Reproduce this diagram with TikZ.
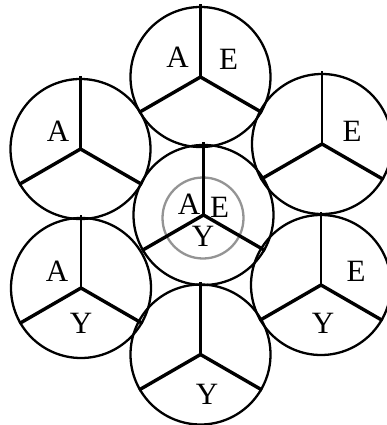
\documentclass[tikz,border=0pt]{standalone}
\usepackage{fontspec}
\setmainfont{Liberation Serif}
\begin{document}
\begin{tikzpicture}[x=1pt,y=-1pt,
  disk/.style={circle,draw,line width=2.3pt,minimum size=140pt,inner sep=0pt},
  ring/.style={circle,draw=black!42,line width=2.3pt,minimum size=81pt,inner sep=0pt},
  vspoke/.style={line width=2.3pt},
  lspoke/.style={line width=3.4pt},
  lab/.style={inner sep=0pt,font=\fontsize{31}{31}\selectfont}]
\useasboundingbox (0,0) rectangle (387,425);
\node[disk] (t) at (200.5,77) {};
\node[disk] (ul) at (80.5,149) {};
\node[disk] (ur) at (322,144) {};
\node[disk] (c) at (203.5,215) {};
\node[disk] (ll) at (81,288) {};
\node[disk] (lr) at (321,285) {};
\node[disk] (b) at (200.5,354.5) {};
\node[ring] (g) at (203,218) {};
\foreach \n in {t,ul,ur,c,ll,lr,b}{
  \draw[vspoke] (\n.center) -- ++(0,-73);
  \draw[lspoke] (\n.center) -- (\n.210);
  \draw[lspoke] (\n.center) -- (\n.330);
}
\node[lab] (tA) at (177.5,57.5) {A};
\node[lab] (tE) at (228.5,59.5) {E};
\node[lab] (ulA) at (58,131) {A};
\node[lab] (urE) at (352,131) {E};
\node[lab] (cA) at (189,204) {A};
\node[lab] (cE) at (219.5,207) {E};
\node[lab] (cY) at (203,236) {Y};
\node[lab] (llA) at (57,271) {A};
\node[lab] (llY) at (81,323) {Y};
\node[lab] (lrE) at (356,271) {E};
\node[lab] (lrY) at (323,323) {Y};
\node[lab] (bY) at (207,394) {Y};
\end{tikzpicture}
\end{document}
